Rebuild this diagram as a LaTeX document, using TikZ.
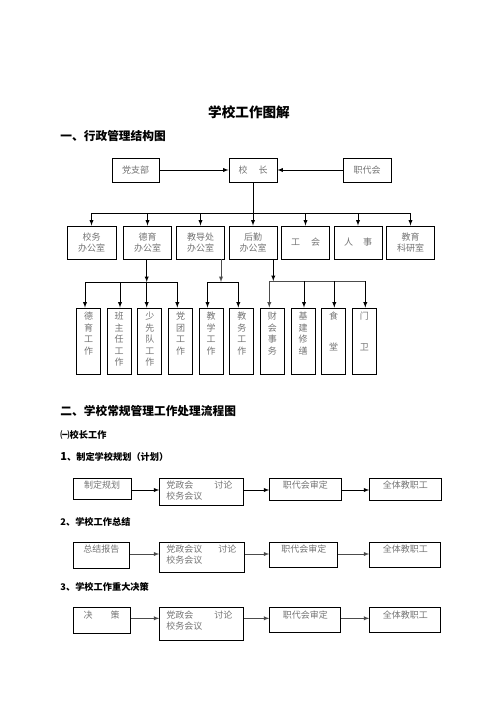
\documentclass[tikz,border=0pt]{standalone}
\usepackage{fontspec}
\newfontfamily\cjk{Noto Sans CJK SC}
\usetikzlibrary{positioning, calc, arrows}

\begin{document}
\begin{tikzpicture}[x=1pt, y=-1pt, line width=0.9pt,
    font=\cjk\fontsize{9}{11.5}\selectfont,
    topbox/.style={draw, text=black!55, inner sep=0pt, align=center, minimum width=48pt},
    dept/.style={topbox, minimum height=33pt},
    colbox/.style={draw, minimum width=24pt, minimum height=66pt},
    coltxt/.style={anchor=north, yshift=-4pt, inner sep=0pt, align=center, text=black!55},
    flowbox/.style={draw, anchor=north west, inner sep=0pt},
    flowtxt/.style={anchor=north, yshift=-2.7pt, inner sep=0pt, text=black!55},
    headtxt/.style={anchor=west, inner sep=0pt, font=\cjk\bfseries\fontsize{11.7}{14}\selectfont},
    subhead/.style={anchor=west, inner sep=0pt, font=\cjk\bfseries\fontsize{9.2}{11}\selectfont},
    greyline/.style={draw=black!70}]
  \useasboundingbox (0,0) rectangle (496,702);

  \node[font=\cjk\bfseries\fontsize{13.6}{16}\selectfont] (title) at (249,112) {学校工作图解};
  \node[headtxt] (part1) at (60,136) {一、行政管理结构图};

  % top row
  \node[topbox, minimum width=47pt, minimum height=24pt] (dzb) at (135.5,170) {党支部};
  \node[topbox, minimum height=24pt] (xz)  at (253,170) {校\hspace{11pt}长};
  \node[topbox, minimum height=24pt] (zdh) at (367,170) {职代会};

  \draw[->,>=latex] (dzb) -- (xz);
  \draw[->,>=latex] (zdh) -- (xz);

  % offices
  \node[dept, minimum width=49pt] (xw) at ( 91.5,242.5) {校务\\办公室};
  \node[dept] (dy) at (147.5,242.5) {德育\\办公室};
  \node[dept] (jd) at (200.5,242.5) {教导处\\办公室};
  \node[dept] (hq) at (253.0,242.5) {后勤\\办公室};
  \node[dept] (gh) at (305.5,242.5) {工\hspace{11pt}会};
  \node[dept] (rs) at (358.0,242.5) {人\hspace{10pt}事};
  \node[dept] (ky) at (410.5,242.5) {教育\\科研室};

  \coordinate (bus0) at (253,213);
  \draw[->,>=latex] (xz) -- (hq);
  \draw (bus0 -| xw) -- (bus0 -| ky);
  \foreach \n in {xw, dy, jd, gh, rs, ky}
    \draw[->,>=latex] (bus0 -| \n) -- (\n);

  % work units
  \node[colbox, label={[coltxt]north:{德\\育\\工\\作}}]     (dygz) at ( 88.5,341) {};
  \node[colbox, label={[coltxt]north:{班\\主\\任\\工\\作}}] (bzr)  at (119.2,341) {};
  \node[colbox, label={[coltxt]north:{少\\先\\队\\工\\作}}] (sxd)  at (149.8,341) {};
  \node[colbox, label={[coltxt]north:{党\\团\\工\\作}}]     (dtgz) at (180.5,341) {};
  \node[colbox, label={[coltxt]north:{教\\学\\工\\作}}]     (jxgz) at (211.1,341) {};
  \node[colbox, label={[coltxt]north:{教\\务\\工\\作}}]     (jwgz) at (241.8,341) {};
  \node[colbox, label={[coltxt]north:{财\\会\\事\\务}}]     (cksw) at (272.4,341) {};
  \node[colbox, label={[coltxt]north:{基\\建\\修\\缮}}]     (jjxs) at (303.1,341) {};
  \node[colbox, label={[coltxt]north:{食\\[19pt]堂}}]       (st)   at (333.7,341) {};
  \node[colbox, label={[coltxt]north:{门\\[19pt]卫}}]       (mw)   at (364.4,341) {};

  \coordinate (bus1) at (146.7,282);
  \draw[->,>=latex] (dy.south -| bus1) -- (bus1);
  \draw (bus1 -| 85,0) -- (bus1 -| 177.3,0);
  \draw[->,>=latex] (bus1 -| 85,0)    -- (dygz.north -| 85,0);
  \draw[->,>=latex] (bus1 -| 120,0)   -- (bzr.north -| 120,0);
  \draw[->,>=latex] (bus1 -| 146.7,0) -- (sxd.north -| 146.7,0);
  \draw[->,>=latex] (bus1 -| 177.3,0) -- (dtgz.north -| 177.3,0);

  \coordinate (bus2) at (221,282);
  \draw[->,>=latex, greyline] (jd.south -| bus2) -- (bus2);
  \draw (bus2 -| 207.5,0) -- (bus2 -| 238.3,0);
  \draw[->,>=latex] (bus2 -| 207.5,0) -- (jxgz.north -| 207.5,0);
  \draw[->,>=latex] (bus2 -| 238.3,0) -- (jwgz.north -| 238.3,0);

  \coordinate (bus3) at (273.3,281);
  \draw[->,>=latex] (hq.south -| bus3) -- (bus3);
  \draw[greyline] (bus3 -| 269.3,0) -- (bus3 -| 365.3,0);
  \draw[->,>=latex, greyline] (bus3 -| 269.3,0) -- (cksw.north -| 269.3,0);
  \draw[->,>=latex] (bus3 -| 304,0)   -- (jjxs.north -| 304,0);
  \draw[->,>=latex] (bus3 -| 334.3,0) -- (st.north -| 334.3,0);
  \draw[->,>=latex] (bus3 -| 365.3,0) -- (mw.north -| 365.3,0);

  % part two
  \node[headtxt] (part2) at (60,411) {二、学校常规管理工作处理流程图};
  \node[subhead] (xzgz)  at (60,435) {㈠校长工作};

  \node[subhead] (item1) at (60,457) {{\fontsize{11}{11}\selectfont 1}、制定学校规划（计划）};
  \node[flowbox, minimum width=58pt,   minimum height=21.6pt, label={[flowtxt]north:制定规划}] (zdgh) at ( 72.7,477.7) {};
  \node[flowbox, minimum width=83.4pt, minimum height=27.3pt, label={[flowtxt, anchor=north west, xshift=6.7pt, align=left]north west:{党政会\hspace{21pt}讨论\\校务会议}}] (dzh1) at (159.3,477.7) {};
  \node[flowbox, minimum width=71.4pt, minimum height=22pt,   label={[flowtxt]north:职代会审定}] (sd1) at (269.3,477.7) {};
  \node[flowbox, minimum width=71.4pt, minimum height=22pt,   label={[flowtxt]north:全体教职工}] (qt1) at (369.3,477.7) {};
  \coordinate (lv1) at (0,490);
  \draw[->,>=latex] (zdgh.east |- lv1) -- (dzh1.west |- lv1);
  \draw[->,>=latex] (dzh1.east |- lv1) -- (sd1.west |- lv1);
  \draw[->,>=latex] (sd1.east |- lv1)  -- (qt1.west |- lv1);

  \node[subhead] (item2) at (60,521.7) {2、学校工作总结};
  \node[flowbox, minimum width=56.6pt, minimum height=26.6pt, label={[flowtxt]north:总结报告}] (zjbg) at ( 72.7,541.7) {};
  \node[flowbox, minimum width=85pt,   minimum height=30.6pt, label={[flowtxt, anchor=north west, xshift=6.7pt, align=left]north west:{党政会议\hspace{16pt}讨论\\校务会议}}] (dzh2) at (159.3,541.7) {};
  \node[flowbox, minimum width=68pt,   minimum height=25pt,   label={[flowtxt]north:职代会审定}] (sd2) at (269.3,541.7) {};
  \node[flowbox, minimum width=71pt,   minimum height=25pt,   label={[flowtxt]north:全体教职工}] (qt2) at (369.3,541.7) {};
  \coordinate (lv2) at (0,554);
  \draw[->,>=latex, greyline] (zjbg.east |- lv2) -- (dzh2.west |- lv2);
  \draw[->,>=latex, greyline] (dzh2.east |- lv2) -- (sd2.west |- lv2);
  \draw[->,>=latex, greyline] (sd2.east |- lv2)  -- (qt2.west |- lv2);

  \node[subhead] (item3) at (60,587.3) {3、学校工作重大决策};
  \node[flowbox, minimum width=57pt, minimum height=26pt, label={[flowtxt]north:决\hspace{18pt}策}] (jc) at ( 72.7,607.3) {};
  \node[flowbox, minimum width=84pt, minimum height=33pt, label={[flowtxt, anchor=north west, xshift=6.7pt, align=left]north west:{党政会\hspace{21pt}讨论\\校务会议}}] (dzh3) at (159.3,607.3) {};
  \node[flowbox, minimum width=71pt, minimum height=25pt, label={[flowtxt]north:职代会审定}] (sd3) at (269.3,607.3) {};
  \node[flowbox, minimum width=71pt, minimum height=25pt, label={[flowtxt]north:全体教职工}] (qt3) at (369.3,607.3) {};
  \coordinate (lv3) at (0,618.3);
  \draw[->,>=latex, greyline] (jc.east |- lv3)   -- (dzh3.west |- lv3);
  \draw[->,>=latex, greyline] (dzh3.east |- lv3) -- (sd3.west |- lv3);
  \draw[->,>=latex, greyline] (sd3.east |- lv3)  -- (qt3.west |- lv3);
\end{tikzpicture}
\end{document}
